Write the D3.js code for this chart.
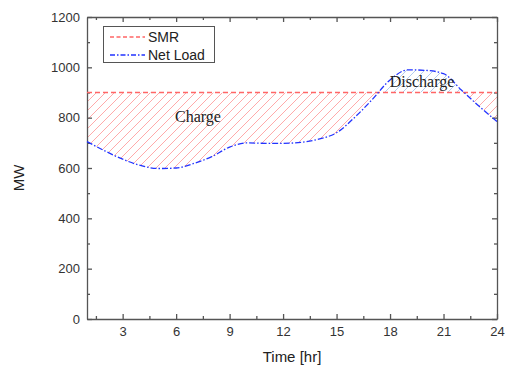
<!DOCTYPE html>
<html><head><meta charset="utf-8">
<script src="https://cdn.jsdelivr.net/npm/d3@7"></script>
<style>body{margin:0;background:#fff}svg{display:block}</style>
</head><body>
<script>
const hours = [1,2,3,4,5,6,7,8,9,10,11,12,13,14,15,16,17,18,19,20,21,22,23,24];
const netLoad = [705,668,635,610,598,600,618,645,683,700,698,698,702,715,740,800,872,950,990,988,975,910,845,785];
const smrLevel = 900;
const xTicks = [3,6,9,12,15,18,21,24];
const yTicks = [0,200,400,600,800,1000,1200];

const W=512,H=369;
const svg=d3.select("body").append("svg").attr("width",W).attr("height",H);
const x=d3.scaleLinear().domain([1,24]).range([87,497]);
const y=d3.scaleLinear().domain([0,1200]).range([319,17]);
const defs=svg.append("defs");
function hatch(id,color){
  const p=defs.append("pattern").attr("id",id).attr("patternUnits","userSpaceOnUse")
    .attr("width",9).attr("height",9);
  p.append("path").attr("d","M0,9 L9,0 M-2,2 L2,-2 M7,11 L11,7")
    .attr("stroke",color).attr("stroke-width",1);
}
hatch("hr","#ffaaaa");
hatch("hb","#b3cdee");
const data=hours.map((h,i)=>({h,v:netLoad[i]}));
const curve=d3.curveMonotoneX;
const clipLow=defs.append("clipPath").attr("id","clow");
clipLow.append("rect").attr("x",87).attr("y",y(smrLevel)).attr("width",410).attr("height",319-y(smrLevel));
const clipHigh=defs.append("clipPath").attr("id","chigh");
clipHigh.append("rect").attr("x",87).attr("y",17).attr("width",410).attr("height",y(smrLevel)-17);
const area=d3.area().x(d=>x(d.h)).y0(y(smrLevel)).y1(d=>y(d.v)).curve(curve);
svg.append("path").datum(data).attr("d",area).attr("fill","url(#hr)").attr("clip-path","url(#clow)");
svg.append("path").datum(data).attr("d",area).attr("fill","url(#hb)").attr("clip-path","url(#chigh)");

// axes
const axCol="#555";
const fmt=d3.format("d");
const gx=svg.append("g").attr("transform","translate(0,319)")
  .call(d3.axisBottom(x).tickValues(xTicks).tickSizeInner(-5).tickSizeOuter(0).tickPadding(8).tickFormat(fmt));
const gxm=svg.append("g").attr("transform","translate(0,319)")
  .call(d3.axisBottom(x).tickValues(d3.range(1.5,24,3)).tickSize(-3).tickFormat(""));
const gxt=svg.append("g").attr("transform","translate(0,17)")
  .call(d3.axisTop(x).tickValues(xTicks).tickSizeInner(-5).tickSizeOuter(0).tickFormat(""));
const gxtm=svg.append("g").attr("transform","translate(0,17)")
  .call(d3.axisTop(x).tickValues(d3.range(1.5,24,3)).tickSize(-3).tickFormat(""));
const gy=svg.append("g").attr("transform","translate(87,0)")
  .call(d3.axisLeft(y).tickValues(yTicks).tickSizeInner(-5).tickSizeOuter(0).tickPadding(7).tickFormat(fmt));
const gym=svg.append("g").attr("transform","translate(87,0)")
  .call(d3.axisLeft(y).tickValues(d3.range(100,1200,200)).tickSize(-3).tickFormat(""));
const gyr=svg.append("g").attr("transform","translate(497,0)")
  .call(d3.axisRight(y).tickValues(yTicks).tickSizeInner(-5).tickSizeOuter(0).tickFormat(""));
const gyrm=svg.append("g").attr("transform","translate(497,0)")
  .call(d3.axisRight(y).tickValues(d3.range(100,1200,200)).tickSize(-3).tickFormat(""));
[gx,gxm,gxt,gxtm,gy,gym,gyr,gyrm].forEach(g=>{
  g.selectAll("path,line").attr("stroke",axCol).attr("stroke-width",1.3);
  g.selectAll("text").attr("fill","#333").style("font-family","Liberation Sans, Arial, sans-serif").style("font-size","13px");
});
gxm.select(".domain").remove();gxtm.select(".domain").remove();gym.select(".domain").remove();gyrm.select(".domain").remove();

// lines
svg.append("line").attr("x1",87).attr("x2",497).attr("y1",y(smrLevel)).attr("y2",y(smrLevel))
  .attr("stroke","#ff6666").attr("stroke-width",1.3).attr("stroke-dasharray","5,3");
const line=d3.line().x(d=>x(d.h)).y(d=>y(d.v)).curve(curve);
svg.append("path").datum(data).attr("d",line).attr("fill","none")
  .attr("stroke","#2233ff").attr("stroke-width",1.3).attr("stroke-dasharray","6,2,1.5,2");

// annotations
svg.append("text").attr("x",198).attr("y",122).attr("text-anchor","middle")
  .style("font-family","Liberation Serif, Times New Roman, serif").style("font-size","16px").attr("fill","#222").text("Charge");
svg.append("text").attr("x",422).attr("y",87).attr("text-anchor","middle")
  .style("font-family","Liberation Serif, Times New Roman, serif").style("font-size","16px").attr("fill","#222").text("Discharge");

// legend
const lg=svg.append("g");
lg.append("rect").attr("x",103.5).attr("y",26.5).attr("width",111).attr("height",36)
  .attr("fill","#fff").attr("stroke","#555").attr("stroke-width",1);
lg.append("line").attr("x1",110).attr("x2",145).attr("y1",37).attr("y2",37)
  .attr("stroke","#ff6666").attr("stroke-width",1.3).attr("stroke-dasharray","4,2.5");
lg.append("line").attr("x1",110).attr("x2",145).attr("y1",55).attr("y2",55)
  .attr("stroke","#2233ff").attr("stroke-width",1.3).attr("stroke-dasharray","5,2,1.5,2");
lg.append("text").attr("x",148).attr("y",42).text("SMR");
lg.append("text").attr("x",148).attr("y",60).text("Net Load");
lg.selectAll("text").style("font-family","Liberation Sans, Arial, sans-serif").style("font-size","14px").attr("fill","#222");

// axis titles
svg.append("text").attr("x",292).attr("y",362).attr("text-anchor","middle")
  .style("font-family","Liberation Sans, Arial, sans-serif").style("font-size","15px").attr("fill","#222").text("Time [hr]");
svg.append("text").attr("transform","translate(24,178) rotate(-90)").attr("text-anchor","middle")
  .style("font-family","Liberation Sans, Arial, sans-serif").style("font-size","15px").attr("fill","#222").text("MW");
</script>
</body></html>
